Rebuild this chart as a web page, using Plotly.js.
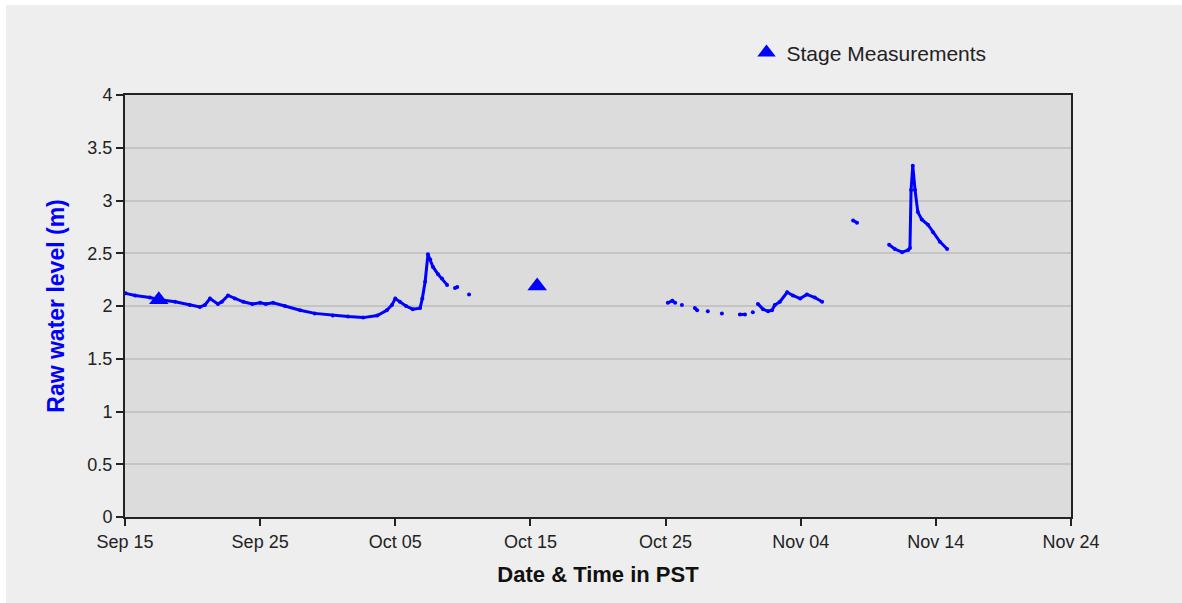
<!DOCTYPE html>
<html>
<head>
<meta charset="utf-8">
<script src="https://cdn.plot.ly/plotly-3.0.1.min.js"></script>
<style>html,body{margin:0;padding:0;background:#fff;}#chart{width:1182px;height:603px;}</style>
</head>
<body>
<div id="chart"></div>
<script>
// Raw water level time series (null = gap in record)
var levelTimes = [
  "2010-09-15 01:00","2010-09-15 18:00","2010-09-16 20:00","2010-09-17 14:00","2010-09-18 17:00",
  "2010-09-19 19:00","2010-09-20 13:00","2010-09-20 22:00","2010-09-21 07:00","2010-09-21 21:00",
  "2010-09-22 04:00","2010-09-22 15:00","2010-09-23 03:00","2010-09-23 18:00","2010-09-24 10:00",
  "2010-09-25 00:00","2010-09-25 10:00","2010-09-25 23:00","2010-09-26 20:00","2010-09-27 23:00",
  "2010-09-29 01:00","2010-09-30 09:00","2010-10-01 12:00","2010-10-02 15:00","2010-10-03 16:00",
  "2010-10-04 09:00","2010-10-04 18:00","2010-10-05 00:00","2010-10-05 08:00","2010-10-05 19:00",
  "2010-10-06 07:00","2010-10-06 20:00","2010-10-07 00:00","2010-10-07 05:00","2010-10-07 10:00",
  "2010-10-07 14:00","2010-10-07 19:00","2010-10-08 04:00","2010-10-08 11:00","2010-10-08 20:00",
  "2010-10-09 02:00",
  "2010-10-09 10:00","2010-10-09 14:00","2010-10-10 00:00",
  "2010-10-10 11:00","2010-10-10 20:00",
  "2010-10-25 04:00","2010-10-25 12:00","2010-10-25 17:00","2010-10-25 23:00",
  "2010-10-26 05:00","2010-10-26 12:00",
  "2010-10-27 04:00","2010-10-27 08:00","2010-10-27 16:00",
  "2010-10-28 03:00","2010-10-28 12:00",
  "2010-10-29 04:00","2010-10-29 12:00",
  "2010-10-30 12:00","2010-10-30 21:00","2010-10-31 04:00",
  "2010-10-31 11:00","2010-10-31 15:00",
  "2010-10-31 20:00","2010-11-01 05:00","2010-11-01 14:00","2010-11-01 21:00","2010-11-02 02:00",
  "2010-11-02 11:00","2010-11-03 00:00","2010-11-03 10:00","2010-11-03 23:00","2010-11-04 11:00",
  "2010-11-05 01:00","2010-11-05 14:00","2010-11-06 00:00",
  "2010-11-07 21:00","2010-11-08 04:00","2010-11-09 00:00",
  "2010-11-10 13:00","2010-11-10 23:00","2010-11-11 12:00","2010-11-11 23:00","2010-11-12 02:00",
  "2010-11-12 04:00","2010-11-12 07:00","2010-11-12 11:00","2010-11-12 16:00","2010-11-12 23:00",
  "2010-11-13 10:00","2010-11-13 19:00","2010-11-14 07:00","2010-11-14 20:00"
];
var levelValues = [
  2.12,2.10,2.08,2.06,2.04,
  2.01,1.99,2.01,2.07,2.02,
  2.04,2.10,2.07,2.04,2.02,
  2.03,2.02,2.03,2.00,1.96,
  1.93,1.91,1.90,1.89,1.91,
  1.96,2.01,2.07,2.04,2.00,
  1.97,1.98,2.07,2.23,2.49,
  2.44,2.37,2.30,2.26,2.20,
  null,
  2.17,2.18,null,
  2.11,null,
  2.03,2.05,2.03,null,
  2.01,null,
  1.98,1.96,null,
  1.95,null,
  1.93,null,
  1.92,1.92,null,
  1.94,null,
  2.02,1.97,1.95,1.96,2.01,
  2.04,2.13,2.10,2.07,2.11,
  2.08,2.04,null,
  2.81,2.79,null,
  2.58,2.54,2.51,2.53,2.55,
  3.10,3.33,3.10,2.89,2.82,
  2.77,2.70,2.61,2.54
];
// Stage measurements
var stageTimes = ["2010-09-17 12:00","2010-10-15 12:00"];
var stageValues = [2.06, 2.19];
var stageName = "Stage Measurements";
var xTitle = "Date & Time in PST";
var yTitle = "Raw water level (m)";

var font = "Liberation Sans, Arial, sans-serif";

var traces = [
  {
    x: levelTimes, y: levelValues, type: "scatter", mode: "lines+markers",
    connectgaps: false, showlegend: false,
    line: {color: "#0000ff", width: 3},
    marker: {color: "#0000ff", size: 4},
    hoverinfo: "x+y"
  },
  {
    x: stageTimes, y: stageValues, type: "scatter", mode: "markers",
    name: stageName,
    marker: {symbol: "triangle-up", color: "#0000ff", size: 17}
  }
];

var layout = {
  width: 1182, height: 603,
  margin: {l: 125, r: 111, t: 95, b: 86},
  paper_bgcolor: "#eeeeee",
  plot_bgcolor: "#dcdcdc",
  font: {family: font, size: 18, color: "#222"},
  showlegend: true,
  legend: {
    x: 0.657, y: 1.1, xanchor: "left", yanchor: "middle",
    bgcolor: "rgba(0,0,0,0)", font: {family: font, size: 21, color: "#222"},
    itemsizing: "trace", itemwidth: 30
  },
  xaxis: {
    type: "date",
    range: ["2010-09-15 00:00", "2010-11-24 00:00"],
    tick0: "2010-09-15", dtick: 864000000,
    tickformat: "%b %d",
    ticks: "outside", ticklen: 7, tickwidth: 1.5, tickcolor: "#222",
    showline: true, linecolor: "#222", linewidth: 2, mirror: true,
    showgrid: false, zeroline: false,
    tickfont: {family: font, size: 18, color: "#222"},
    title: {text: "<b>" + xTitle + "</b>", font: {family: font, size: 22, color: "#111"}, standoff: 16}
  },
  yaxis: {
    range: [0, 4], dtick: 0.5,
    ticks: "outside", ticklen: 7, tickwidth: 1.5, tickcolor: "#222",
    showline: true, linecolor: "#222", linewidth: 2, mirror: true,
    showgrid: true, gridcolor: "#c4c4c4", gridwidth: 1.5,
    zeroline: false,
    tickfont: {family: font, size: 18, color: "#222"},
    title: {text: "<b>" + yTitle + "</b>", font: {family: font, size: 23, color: "#0000ff"}, standoff: 16}
  },
  shapes: [
    {type: "rect", xref: "paper", yref: "paper", x0: -0.14, x1: -0.1258, y0: -0.3, y1: 1.3,
     fillcolor: "#ffffff", line: {width: 0}, layer: "below"},
    {type: "rect", xref: "paper", yref: "paper", x0: -0.14, x1: 1.2, y0: 1.2133, y1: 1.3,
     fillcolor: "#ffffff", line: {width: 0}, layer: "below"}
  ]
};

Plotly.newPlot("chart", traces, layout, {displayModeBar: false, responsive: false});
</script>
</body>
</html>
